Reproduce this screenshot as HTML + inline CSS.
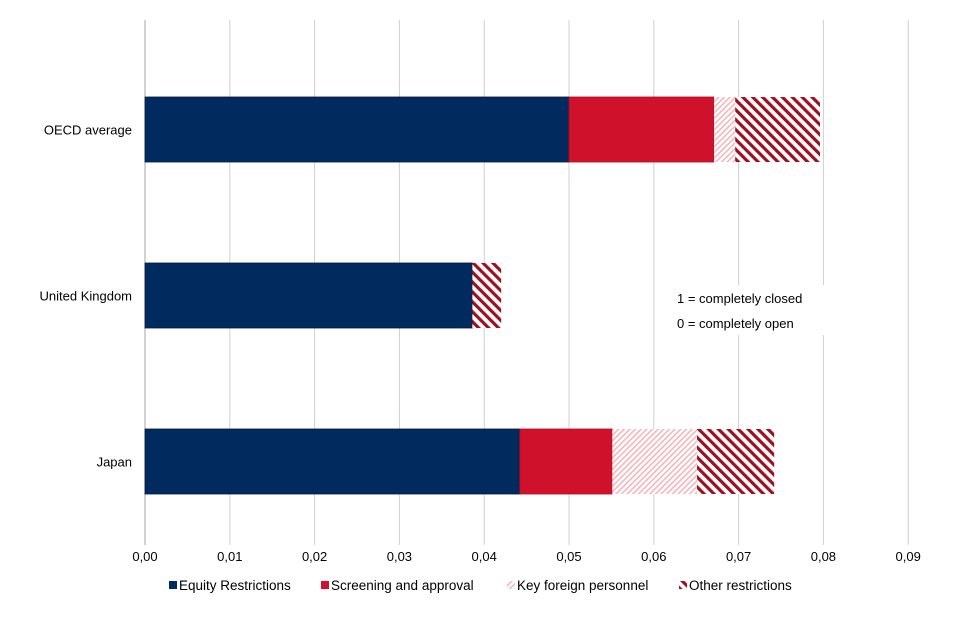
<!DOCTYPE html>
<html><head><meta charset="utf-8"><style>
html,body{margin:0;padding:0;background:#fff;}
svg{display:block;font-family:"Liberation Sans",Arial,sans-serif;}
</style></head><body>
<svg id="chart" width="960" height="640">
<defs>
<pattern id="pKey" patternUnits="userSpaceOnUse" width="4" height="4" patternTransform="rotate(45)">
<rect width="4" height="4" fill="#fff"/><rect width="1.6" height="4" fill="#f4b6bd"/></pattern>
<pattern id="pOther" patternUnits="userSpaceOnUse" width="7" height="7" patternTransform="rotate(-45)">
<rect width="7" height="7" fill="#fff"/><rect width="3.2" height="7" fill="#9e0f1f"/></pattern>
</defs>
<g id="grid"></g>
<g id="bars"></g>
<g id="xaxis"></g>
<g id="yaxis"></g>
<g>
<rect x="670" y="285" width="160" height="50" fill="#fff"/>
<text x="677" y="303" font-size="13" fill="#000">1 = completely closed</text>
<text x="677" y="328" font-size="13" fill="#000">0 = completely open</text>
</g>
<g id="legend"></g>
</svg>
<script>
const categories = ["OECD average","United Kingdom","Japan"];
const seriesNames = ["Equity Restrictions","Screening and approval","Key foreign personnel","Other restrictions"];
const equity = [0.0500, 0.0386, 0.0442];
const screening = [0.0171, 0, 0.0109];
const keyPersonnel = [0.0025, 0, 0.0100];
const other = [0.0100, 0.0034, 0.0091];
const ticks = [0,0.01,0.02,0.03,0.04,0.05,0.06,0.07,0.08,0.09];
const fills = ["#012a5e","#d0112b","url(#pKey)","url(#pOther)"];
{
const NS="http://www.w3.org/2000/svg";
const x0=145, pxPer=8480, yTop=20, yBottom=545;
const xs = v => x0 + v*pxPer;
const bandY = i => 97 + i*166;
const barH = 65;
function el(tag, attrs, parent){const e=document.createElementNS(NS,tag);for(const k in attrs)e.setAttribute(k,attrs[k]);parent.appendChild(e);return e;}

const grid=document.getElementById('grid'), xaxis=document.getElementById('xaxis');
ticks.forEach(t=>{
  const g=el('line',{x1:xs(t),x2:xs(t),y1:yTop,y2:yBottom,stroke:t===0?'#a6a6a6':'#d0d0d0','stroke-width':1},grid);
  
  
  const tx=el('text',{x:xs(t),y:561,'font-size':13,'text-anchor':'middle',fill:'#000'},xaxis);
  tx.textContent=t.toFixed(2).replace('.',',');
  
  
});

const bars=document.getElementById('bars'), yaxis=document.getElementById('yaxis');
const series=[equity,screening,keyPersonnel,other];
categories.forEach((c,i)=>{
  let acc=0;
  series.forEach((s,j)=>{
    const v=s[i]; if(v<=0) return;
    const r=el('rect',{x:xs(acc),y:bandY(i),width:xs(acc+v)-xs(acc),height:barH,fill:fills[j]},bars);
    if(j<2){r.setAttribute('stroke',j===0?'#001a40':'#b00d22');r.setAttribute('stroke-width','0.8');}
    
    
    acc+=v;
  });
  const t=el('text',{x:132,y:bandY(i)+barH/2+5,'font-size':13,'text-anchor':'end',fill:'#000'},yaxis);
  t.textContent=c;
  
  
});

const legend=document.getElementById('legend');
const lx=[169,321,507,679];
seriesNames.forEach((n,j)=>{
  const r=el('rect',{x:lx[j],y:581,width:8,height:8,fill:fills[j]},legend);
  
  
  const t=el('text',{x:lx[j]+10,y:590,'font-size':13.5,fill:'#000'},legend);
  t.textContent=n;
  
  
});
}
</script>
</body></html>
